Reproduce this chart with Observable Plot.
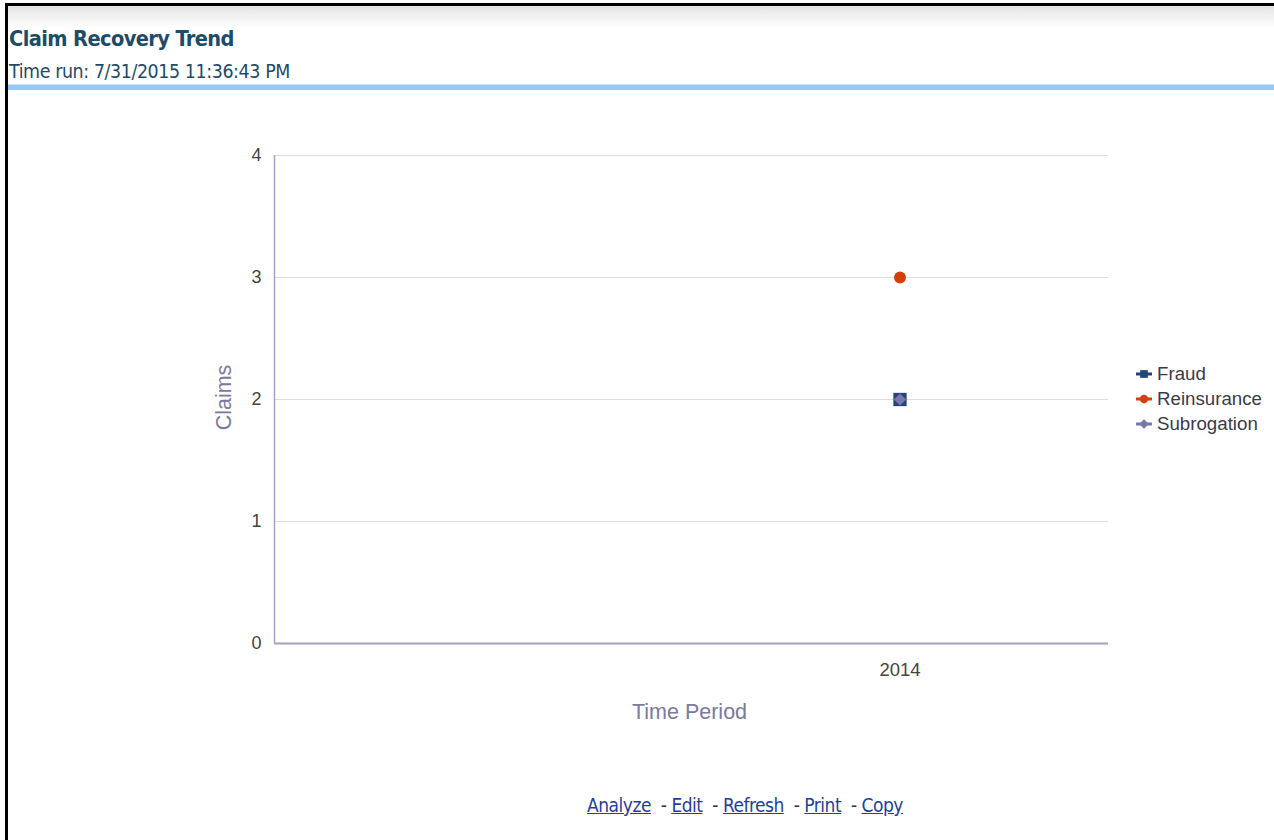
<!DOCTYPE html>
<html>
<head>
<meta charset="utf-8">
<script src="https://cdn.jsdelivr.net/npm/d3@7"></script>
<script src="https://cdn.jsdelivr.net/npm/@observablehq/plot@0.6"></script>
<style>
  html, body { margin: 0; padding: 0; background: #fff; width: 1274px; height: 840px; overflow: hidden; }
  #page {
    position: absolute; left: 5px; top: 3px; width: 1269px; height: 837px;
    border-top: 3px solid #000; border-left: 3px solid #000; box-sizing: border-box;
  }
  #band {
    position: absolute; left: 0; top: 0; right: 0; height: 22px;
    background: linear-gradient(#e4e4e6, #ffffff);
  }
  #title {
    position: absolute; left: 1px; top: 20px; margin: 0;
    font: bold 21.6px "DejaVu Sans Condensed", "DejaVu Sans", sans-serif; color: #1d4b6a;
    letter-spacing: -0.6px;
  }
  #subtitle {
    position: absolute; left: 1px; top: 54px;
    font: 19.4px "DejaVu Sans Condensed", "DejaVu Sans", sans-serif; color: #1d4b6a;
    letter-spacing: -0.4px;
  }
  #rule {
    position: absolute; left: 0; right: 0; top: 78px; height: 5px;
    background: #94c8f6; border-top: 1px solid #c8e2fb;
  }
  #chart { position: absolute; left: -5px; top: 97px; }
  #legend {
    position: absolute; left: 1135px; top: 361px;
    font: 18.7px "Liberation Sans", Arial, sans-serif; color: #3a3a4a;
  }
  #legend div { height: 25px; display: flex; align-items: center; }
  #legend svg { margin-right: 4px; }
  #links {
    position: absolute; left: 0; width: 1474px; top: 788px; text-align: center;
    font: 19px "DejaVu Sans Condensed", "DejaVu Sans", sans-serif; color: #333; letter-spacing: -0.5px;
  }
  #links a { color: #1f3f9e; text-decoration: underline; }
</style>
</head>
<body>
<div id="page">
  <div id="band"></div>
  <div id="title">Claim Recovery Trend</div>
  <div id="subtitle">Time run: 7/31/2015 11:36:43 PM</div>
  <div id="rule"></div>
  <div id="links"><a>Analyze</a> &nbsp;- <a>Edit</a> &nbsp;- <a>Refresh</a> &nbsp;- <a>Print</a> &nbsp;- <a>Copy</a></div>
</div>
<div id="chart"></div>
<div id="legend"></div>
<script>
// Claim counts per recovery type, by time period
const periods = [2014];
const fraud = [2];
const reinsurance = [3];
const subrogation = [2];

const seriesNames = ["Fraud", "Reinsurance", "Subrogation"];
const seriesColors = ["#24457a", "#d4400c", "#7b76ad"];
const seriesSymbols = ["square", "circle", "diamond2"];
const yTicks = [0, 1, 2, 3, 4];

const rows = [];
[fraud, reinsurance, subrogation].forEach((vals, s) => {
  vals.forEach((v, i) => rows.push({period: periods[i], series: seriesNames[s], value: v}));
});

const axisColor = "#a2a2c4";
const labelColor = "#7a7aa0";

const chart = Plot.plot({
  width: 1274,
  height: 660,
  marginLeft: 279,
  marginRight: 161,
  marginTop: 58,
  marginBottom: 114,
  style: {fontFamily: "'Liberation Sans', Arial, sans-serif", fontSize: "18px", color: "#3c3c3c", background: "transparent"},
  x: {domain: [2012.5, 2014.5], ticks: periods, tickFormat: d => String(d), tickSize: 0, tickPadding: 19, label: null},
  y: {domain: [0, 4], ticks: yTicks, tickFormat: "d", tickSize: 0, tickPadding: 13, label: null},
  color: {domain: seriesNames, range: seriesColors},
  symbol: {domain: seriesNames, range: seriesSymbols},
  marks: [
    Plot.gridY(yTicks, {stroke: "#dcdce4", strokeOpacity: 1, strokeWidth: 1.2}),
    Plot.axisY(yTicks, {tickSize: 0, tickPadding: 13, fontSize: 18, fill: "#444", tickFormat: "d"}),
    Plot.axisX(periods, {tickSize: 0, tickPadding: 19, fontSize: 18.5, fill: "#444", tickFormat: d => String(d)}),
    Plot.ruleX([2012.5], {stroke: axisColor, strokeWidth: 1.5}),
    Plot.ruleY([0], {stroke: axisColor, strokeWidth: 2}),
    Plot.dot(rows.filter(d => d.series === "Fraud"), {x: "period", y: "value", symbol: "series", fill: "series", r: 7.5}),
    Plot.dot(rows.filter(d => d.series === "Reinsurance"), {x: "period", y: "value", symbol: "series", fill: "series", r: 6}),
    Plot.dot(rows.filter(d => d.series === "Subrogation"), {x: "period", y: "value", symbol: "series", fill: "series", r: 5.5}),
    Plot.text(["Time Period"], {frameAnchor: "bottom", dy: 75, dx: -2, text: d => d, fontSize: 21.5, fill: labelColor}),
    Plot.text(["Claims"], {frameAnchor: "left", dx: -50, dy: -2, rotate: -90, textAnchor: "middle", text: d => d, fontSize: 21.5, fill: labelColor})
  ]
});
document.getElementById("chart").appendChild(chart);

// Legend with line-through markers
const legend = document.getElementById("legend");
seriesNames.forEach((name, i) => {
  const row = document.createElement("div");
  const sym = d3.symbol().type(
    i === 0 ? d3.symbolSquare : i === 1 ? d3.symbolCircle : d3.symbolDiamond2
  ).size(i === 0 ? 60 : 55)();
  row.innerHTML = `<svg width="18" height="14" viewBox="-9 -7 18 14">
    <line x1="-8" x2="8" y1="0" y2="0" stroke="${seriesColors[i]}" stroke-width="3"/>
    <path d="${sym}" fill="${seriesColors[i]}"/></svg><span>${name}</span>`;
  legend.appendChild(row);
});
</script>
</body>
</html>
